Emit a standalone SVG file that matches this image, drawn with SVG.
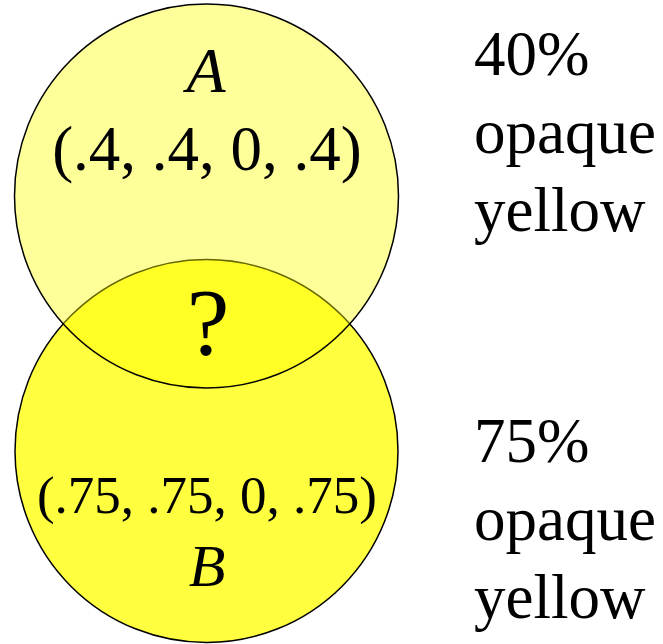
<svg xmlns="http://www.w3.org/2000/svg" width="663" height="644" viewBox="0 0 663 644">
<style>
text{font-family:"Liberation Serif","Times New Roman",serif;fill:#000}
.c{text-anchor:middle}
.i{font-style:italic}
.circ{fill:#ffff00;stroke:#000;stroke-width:1.5}
</style>
<rect width="663" height="644" fill="#fff"/>
<g id="B">
<circle class="circ" cx="206.5" cy="451" r="191.5" fill-opacity="0.75"/>
<text class="c" x="207" y="513" font-size="53">(.75, .75, 0, .75)</text>
<text class="c i" x="207" y="586" font-size="60">B</text>
</g>
<g id="A">
<circle class="circ" cx="206.5" cy="196" r="192" fill-opacity="0.4"/>
<text class="c i" x="206" y="92" font-size="64">A</text>
<text class="c" x="207" y="170" font-size="63">(.4, .4, 0, .4)</text>
</g>
<g id="overlap">
<text class="c" x="208" y="355" font-size="96">?</text>
</g>
<g id="label-A">
<text x="474" y="75" font-size="63">40%</text>
<text x="474" y="153" font-size="63">opaque</text>
<text x="474" y="231" font-size="63">yellow</text>
</g>
<g id="label-B">
<text x="474" y="462" font-size="63">75%</text>
<text x="474" y="540" font-size="63">opaque</text>
<text x="474" y="618" font-size="63">yellow</text>
</g>
<g id="connectors"></g>
</svg>
